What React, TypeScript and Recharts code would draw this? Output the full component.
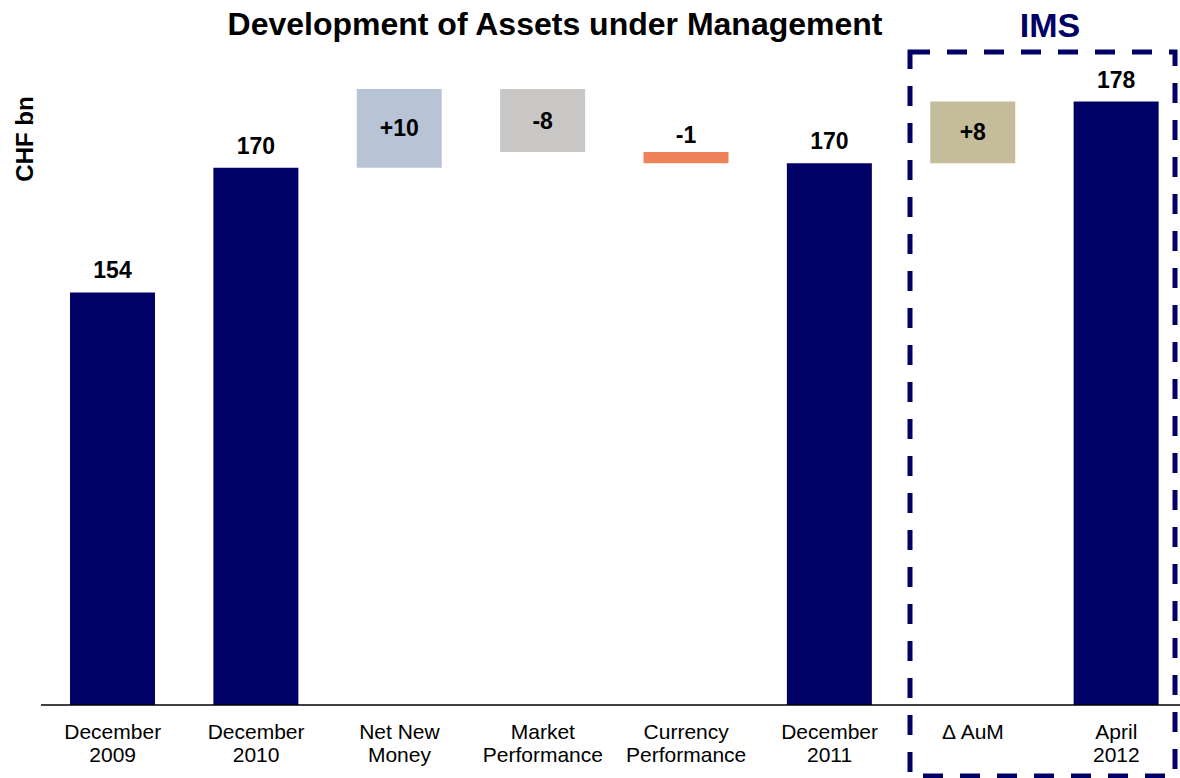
import React from "react";
import { BarChart, Bar, XAxis, YAxis, Cell, LabelList } from "recharts";

const categories = [
  "December\n2009",
  "December\n2010",
  "Net New\nMoney",
  "Market\nPerformance",
  "Currency\nPerformance",
  "December\n2011",
  "Δ AuM",
  "April\n2012",
];
const totals: (number | null)[] = [154.0, 169.8, null, null, null, 170.4, null, 178.2];
const changes: (number | null)[] = [null, null, 10.0, -8.0, -1.4, null, 7.8, null];
const valueLabels = ["154", "170", "+10", "-8", "-1", "170", "+8", "178"];
const barColors = ["#000066", "#000066", "#B8C3D5", "#C8C7C5", "#EE8259", "#000066", "#C5BD9A", "#000066"];

const FONT = "'Liberation Sans', Arial, Helvetica, sans-serif";

const data = (() => {
  let level = 0;
  return categories.map((name, i) => {
    const t = totals[i];
    if (t != null) {
      level = t;
      return { name, value: t as number | number[] };
    }
    const start = level;
    const end = level + (changes[i] as number);
    level = end;
    return { name, value: [Math.min(start, end), Math.max(start, end)] };
  });
})();

const Tick = (props: any) => {
  const { x, y, payload } = props;
  const lines = String(payload.value).split("\n");
  return (
    <text x={x} y={y} textAnchor="middle" fontSize={21} fill="#000" fontFamily={FONT}>
      {lines.map((l, i) => (
        <tspan key={i} x={x} y={y + 34 + i * 23}>
          {l}
        </tspan>
      ))}
    </text>
  );
};

const ValueLabel = (props: any) => {
  const { x, y, width, height, index } = props;
  const isTotal = totals[index] != null;
  const inside = !isTotal && height > 30;
  const cx = x + width / 2;
  const ty = inside ? y + height / 2 + 8 : y - (isTotal ? 14 : 9);
  return (
    <text x={cx} y={ty} textAnchor="middle" fontSize={23} fontWeight="bold" fill="#000" fontFamily={FONT}>
      {valueLabels[index]}
    </text>
  );
};

export default function App() {
  return (
    <div
      style={{
        position: "absolute",
        left: 0,
        top: 0,
        width: 1180,
        height: 778,
        overflow: "hidden",
        background: "#fff",
        fontFamily: FONT,
      }}
    >
      <BarChart
        width={1188}
        height={778}
        data={data}
        margin={{ top: 74, right: 0, bottom: 0, left: 41 }}
      >
        <XAxis
          dataKey="name"
          interval={0}
          height={73}
          tickLine={false}
          tickSize={0}
          tickMargin={0}
          axisLine={{ stroke: "#000", strokeWidth: 1.5 }}
          tick={<Tick />}
        />
        <YAxis hide domain={[101.7, 181.7]} allowDataOverflow type="number" />
        <Bar dataKey="value" barSize={85} isAnimationActive={false}>
          {data.map((_, i) => (
            <Cell key={i} fill={barColors[i]} />
          ))}
          <LabelList dataKey="value" content={<ValueLabel />} />
        </Bar>
      </BarChart>
      <svg
        width={1180}
        height={778}
        style={{ position: "absolute", left: 0, top: 0, pointerEvents: "none" }}
      >
        <text x={555} y={35} textAnchor="middle" fontSize={32} fontWeight="bold" fill="#000" fontFamily={FONT}>
          Development of Assets under Management
        </text>
        <text x={1050} y={37} textAnchor="middle" fontSize={34} fontWeight="bold" fill="#000066" fontFamily={FONT}>
          IMS
        </text>
        <text
          transform="translate(33,139) rotate(-90)"
          textAnchor="middle"
          fontSize={24}
          fontWeight="bold"
          fill="#000"
          fontFamily={FONT}
        >
          CHF bn
        </text>
        <rect
          x={910}
          y={52}
          width={265}
          height={724}
          fill="none"
          stroke="#000066"
          strokeWidth={5}
          strokeDasharray="20 17"
        />
      </svg>
    </div>
  );
}
